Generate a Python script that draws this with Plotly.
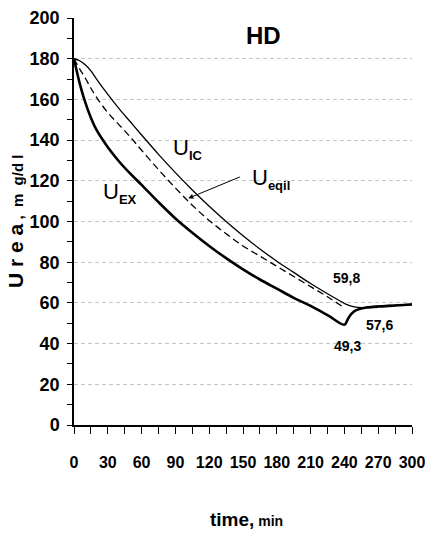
import plotly.graph_objects as go

# ---- data ----
t_main = [0, 5, 10, 15, 20, 30, 40, 50, 60, 75, 90, 105, 120, 135, 150, 165, 180, 195, 210, 225, 240]
u_ex = [180, 168, 158.5, 151, 145, 136.5, 129.5, 123.5, 118, 109.5, 101.5, 94.5, 88, 82, 76.5, 71.5, 67, 62.5, 58.5, 54, 49.3]
u_ic = [180, 179, 177, 174, 170, 162.5, 155.5, 149, 142.5, 133, 124, 115.5, 107.5, 100, 93, 86.5, 80.5, 75, 69.5, 64.5, 59.8]
u_eq = [180, 175, 170.5, 165.5, 161, 153.5, 147.5, 141.5, 135, 125.5, 116.5, 108, 100.5, 94, 88, 83, 78, 73, 68, 63, 57.6]

t_post = [240, 243, 246, 250, 255, 260, 270, 285, 300]
u_ex_post = [49.3, 52, 54.5, 56.3, 57.2, 57.7, 58.2, 58.7, 59.2]
u_ic_post = [59.8, 59.0, 58.4, 57.9, 57.7, 57.9, 58.4, 58.9, 59.4]

x_ticks = [0, 30, 60, 90, 120, 150, 180, 210, 240, 270, 300]
y_ticks = [0, 20, 40, 60, 80, 100, 120, 140, 160, 180, 200]

value_labels = ["59,8", "57,6", "49,3"]
value_pos_t = [242, 271.5, 243]
value_pos_u = [72, 49, 38.8]

FONT = "Liberation Sans, Arial, sans-serif"

fig = go.Figure()

fig.add_trace(go.Scatter(x=t_main + t_post[1:], y=u_ic + u_ic_post[1:], mode="lines",
                         line=dict(color="black", width=1.3, shape="spline", smoothing=1),
                         showlegend=False))
fig.add_trace(go.Scatter(x=t_main, y=u_eq, mode="lines",
                         line=dict(color="black", width=1.3, dash="7px,4px", shape="spline", smoothing=1),
                         showlegend=False))
fig.add_trace(go.Scatter(x=t_main + t_post[1:], y=u_ex + u_ex_post[1:], mode="lines",
                         line=dict(color="black", width=2.6, shape="spline", smoothing=1),
                         showlegend=False))

# value labels
for txt, tx, ty in zip(value_labels, value_pos_t, value_pos_u):
    fig.add_annotation(x=tx, y=ty, text=txt, showarrow=False, xanchor="center", yanchor="middle",
                       font=dict(family=FONT, size=14, color="black", weight="bold"))

# curve labels
fig.add_annotation(x=101.2, y=135.6, text="U<sub><span style='font-size:13px'><b>IC</b></span></sub>",
                   showarrow=False, xanchor="center", yanchor="middle",
                   font=dict(family=FONT, size=22, color="black"))
fig.add_annotation(x=40.4, y=114, text="U<sub><span style='font-size:13px'><b>EX</b></span></sub>",
                   showarrow=False, xanchor="center", yanchor="middle",
                   font=dict(family=FONT, size=22, color="black"))
fig.add_annotation(x=175, y=121, text="U<sub><span style='font-size:13px'><b>eqil</b></span></sub>",
                   showarrow=False, xanchor="center", yanchor="middle",
                   font=dict(family=FONT, size=22, color="black"))
# arrow to equilibrated curve
fig.add_annotation(x=101.5, y=111.4, text="", showarrow=True, ax=53, ay=-22,
                   arrowhead=2, arrowsize=1, arrowwidth=1, arrowcolor="black")

fig.add_annotation(x=167.8, y=191.2, text="<b>HD</b>", showarrow=False,
                   xanchor="center", yanchor="middle",
                   font=dict(family=FONT, size=24, color="black"))

# axis titles
fig.add_annotation(xref="paper", yref="paper", x=-0.175, y=0.501, textangle=-90,
                   xanchor="center", yanchor="middle",
                   text="<b>U r e a<span style='font-size:15px'> ,  m  g/d l</span></b>",
                   showarrow=False, font=dict(family=FONT, size=21, color="black"))
fig.add_annotation(xref="paper", yref="paper", x=0.509, y=-0.233,
                   xanchor="center", yanchor="middle",
                   text="<b>time,<span style='font-size:14px'> min</span></b>",
                   showarrow=False, font=dict(family=FONT, size=19, color="black"))

fig.update_layout(
    width=425, height=534,
    margin=dict(l=74, r=13, t=18, b=109),
    plot_bgcolor="white", paper_bgcolor="white",
    xaxis=dict(range=[0, 300], tickvals=x_ticks, ticktext=[str(v) for v in x_ticks], tickangle=0,
               automargin=False,
               showgrid=False, zeroline=False, showline=True, linecolor="black", linewidth=1.5,
               ticks="outside", ticklen=7, tickwidth=1.2, tickcolor="black",
               minor=dict(dtick=15, tick0=0, ticks="outside", ticklen=7, tickwidth=1.2, tickcolor="black", showgrid=False),
               tickfont=dict(family=FONT, size=16, color="black", weight="bold"), ticklabelstandoff=15,
               ticklabeloverflow="allow"),
    yaxis=dict(range=[0, 200], tickvals=y_ticks, ticktext=[str(v) for v in y_ticks],
               automargin=False,
               showgrid=True, gridcolor="#c4c4c4", gridwidth=1, griddash="4px,3px",
               zeroline=False, showline=True, linecolor="black", linewidth=1.5,
               ticks="outside", ticklen=5, tickwidth=1.2, tickcolor="black",
               minor=dict(dtick=10, tick0=0, ticks="outside", ticklen=5, tickwidth=1.2, tickcolor="black", showgrid=False),
               tickfont=dict(family=FONT, size=18, color="black", weight="bold"), ticklabelstandoff=4),
)

fig.write_html("out.html")
